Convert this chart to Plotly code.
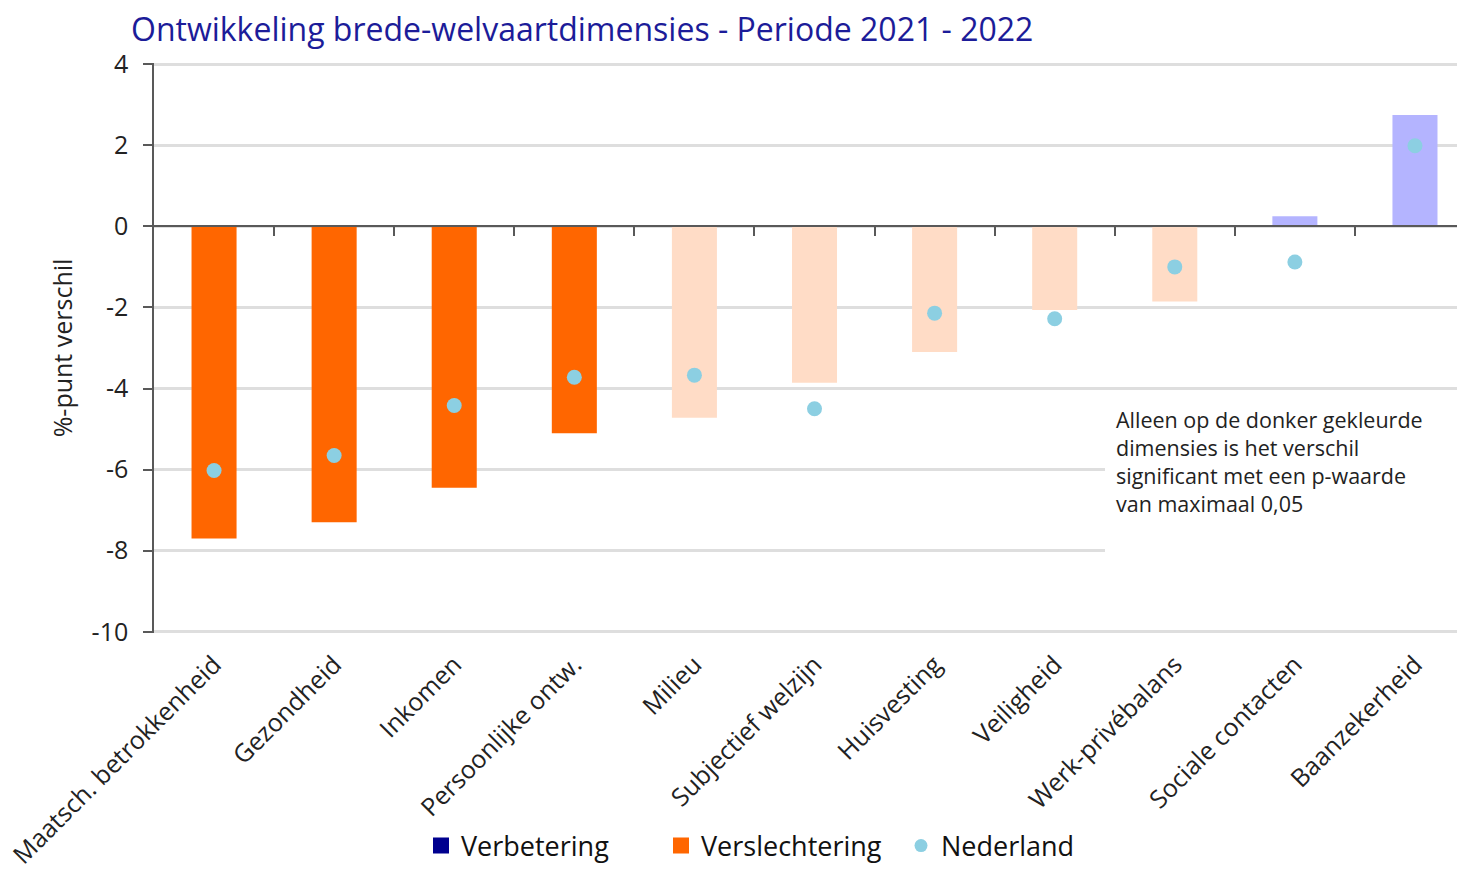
import plotly.graph_objects as go

categories = ["Maatsch. betrokkenheid", "Gezondheid", "Inkomen", "Persoonlijke ontw.",
              "Milieu", "Subjectief welzijn", "Huisvesting", "Veiligheid",
              "Werk-privébalans", "Sociale contacten", "Baanzekerheid"]
verschil = [-7.7, -7.3, -6.45, -5.1, -4.72, -3.86, -3.1, -2.06, -1.85, 0.25, 2.75]
significant = [True, True, True, True, False, False, False, False, False, False, False]
nederland = [-6.02, -5.65, -4.42, -3.72, -3.67, -4.5, -2.14, -2.28, -1.0, -0.88, 1.99]
y_ticks = [4, 2, 0, -2, -4, -6, -8, -10]
y_ticklabels = ["4", "2", "0", "-2", "-4", "-6", "-8", "-10"]

DARK_BLUE = "#00008f"
DARK_ORANGE = "#ff6600"
LIGHT_BLUE_BAR = "#b4b4ff"
LIGHT_ORANGE = "#ffdcc6"
DOT = "#8ccfe2"

def bar_color(v, sig):
    if v >= 0:
        return DARK_BLUE if sig else LIGHT_BLUE_BAR
    return DARK_ORANGE if sig else LIGHT_ORANGE

colors = [bar_color(v, s) for v, s in zip(verschil, significant)]
FONT = "Open Sans"
TXT = "#222222"

fig = go.Figure()
fig.add_trace(go.Bar(x=categories, y=verschil, marker=dict(color=colors, line=dict(width=0)),
                     width=0.375, showlegend=False, hoverinfo="x+y"))
fig.add_trace(go.Scatter(x=categories, y=nederland, mode="markers", name="Nederland",
                         marker=dict(color=DOT, size=15), showlegend=False))
# legend entries
fig.add_trace(go.Scatter(x=[None], y=[None], mode="markers", name="Verbetering",
                         marker=dict(symbol="square", color=DARK_BLUE, size=17)))
fig.add_trace(go.Scatter(x=[None], y=[None], mode="markers", name="Verslechtering",
                         marker=dict(symbol="square", color=DARK_ORANGE, size=17)))
fig.add_trace(go.Scatter(x=[None], y=[None], mode="markers", name="Nederland",
                         marker=dict(color=DOT, size=13)))
# invisible trace to register xaxis2
fig.add_trace(go.Scatter(x=[None], y=[None], xaxis="x2", showlegend=False))

fig.update_layout(
    width=1457, height=869,
    margin=dict(l=154, r=0, t=63, b=236, autoexpand=False),
    paper_bgcolor="white", plot_bgcolor="white",
    font=dict(family=FONT, color=TXT, size=24),
    title=dict(text="Ontwikkeling brede-welvaartdimensies - Periode 2021 - 2022",
               x=131/1457, xanchor="left", xref="container",
               y=1-30/869, yanchor="middle", yref="container",
               font=dict(family=FONT, size=32, color="#1c1c99")),
    xaxis=dict(type="category", range=[-0.5, 10.35], tickangle=-45,
               showgrid=False, zeroline=False, showline=False, automargin=False,
               ticks="outside", ticklen=6, tickcolor="rgba(0,0,0,0)",
               tickfont=dict(size=25, color=TXT)),
    xaxis2=dict(overlaying="x", anchor="free", position=10/14, side="bottom",
                range=[-0.5, 10.35], tickvals=[i + 0.5 for i in range(10)],
                showticklabels=False, ticks="outside", ticklen=9, tickwidth=1.5,
                tickcolor="#595959", showline=True, linecolor="#595959", linewidth=1.5,
                showgrid=False, zeroline=False, automargin=False),
    yaxis=dict(range=[-10.03, 4.03], tickvals=y_ticks, ticktext=y_ticklabels,
               showgrid=True, gridcolor="#dedede", gridwidth=3, zeroline=False,
               showline=True, linecolor="#595959", linewidth=1.5, automargin=False,
               ticks="outside", ticklen=9, tickcolor="#595959", tickwidth=1.5,
               ticklabelstandoff=10,
               tickfont=dict(size=25, color=TXT),
               title=dict(text="%-punt verschil", font=dict(size=25, color=TXT), standoff=12)),
    legend=dict(orientation="h", x=(421-154)/1303, xanchor="left",
                y=(633-846)/570, yanchor="middle",
                font=dict(size=27, color="#111111"), itemsizing="trace",
                itemwidth=30, entrywidth=195, entrywidthmode="pixels",
                tracegroupgap=0, bgcolor="rgba(0,0,0,0)"),
)

# white box hiding the gridlines behind the note
fig.add_shape(type="rect", xref="paper", yref="y", x0=(1105-154)/1303, x1=1.0,
              y0=-8.3, y1=-4.35, fillcolor="white", line=dict(width=0), layer="above")

fig.add_annotation(
    xref="paper", yref="paper", x=(1114-154)/1303, y=(633-403)/570,
    xanchor="left", yanchor="top", align="left", showarrow=False,
    text="Alleen op de donker gekleurde<br>dimensies is het verschil<br>significant met een p-waarde<br>van maximaal 0,05",
    font=dict(size=21.5, color=TXT, family=FONT),
)

fig.write_html("out.html", config={"displayModeBar": False},
               post_script="document.body.style.margin='0px';")
